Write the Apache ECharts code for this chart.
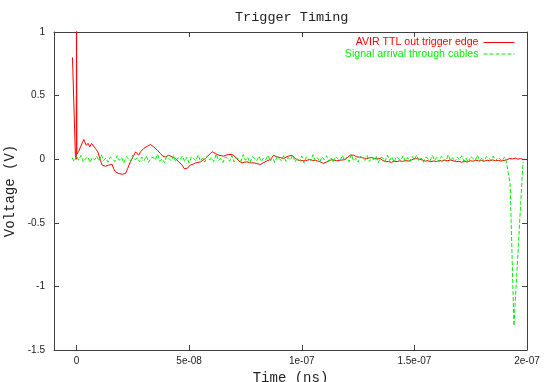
<!DOCTYPE html>
<html lang="en">
<head>
    <meta charset="UTF-8">
    <title>Trigger Timing</title>
    <script src="https://cdn.jsdelivr.net/npm/echarts@6/dist/echarts.min.js"></script>
</head>
<body style="margin:0">
    <div id="main" style="width: 545px; height: 382px"></div>
    <script type="text/javascript">

      // x tick positions (seconds) and their gnuplot style labels
      const xTicks = [0, 5e-8, 1e-7, 1.5e-7, 2e-7];
      const xTickLabels = ["0", "5e-08", "1e-07", "1.5e-07", "2e-07"];

      // red trace: trigger edge, times in ns
      const redNs = [
        -1.8, -0.5, -0.1, 0.0, 0.15, 0.9, 1.8, 2.6, 3.24, 3.8, 4.3, 5.19, 5.9, 6.65, 7.4, 8.43, 9.45,
        10.6, 11.4, 12.1, 12.9, 13.6, 14.3, 15.1, 15.8, 16.5, 17.3, 18.0, 18.8, 19.6, 20.3, 21.0, 21.7,
        22.7, 23.9, 25.1, 26.2, 26.9, 27.6, 28.4, 29.1, 29.8, 30.6, 31.4, 32.1, 32.8, 33.5, 34.3, 35.0,
        35.8, 36.5, 37.3, 38.3, 39.5, 40.9, 42.4, 43.9, 45.4, 46.9, 47.9, 48.6, 49.3, 50.6, 51.7, 52.8,
        53.9, 55.0, 56.1, 57.2, 58.3, 59.4, 60.4, 61.6, 62.3, 63.1, 64.2, 65.3, 66.4, 67.5, 68.2, 69.0,
        70.5, 72.0, 73.5, 74.6, 75.7, 76.8, 77.9, 79.0, 80.1, 81.6, 83.1, 84.6, 86.0, 86.8, 87.5, 88.2,
        89.0, 90.5, 91.9, 93.0, 94.1, 95.7, 97.1, 98.2, 99.3, 100.5, 101.6, 102.7, 103.8, 104.9, 106.0,
        107.1, 108.2, 109.7, 111.2, 112.3, 113.4, 114.5, 115.6, 117.1, 118.2, 119.3, 120.4, 121.5, 123.0,
        124.5, 125.6, 126.7, 127.8, 128.9, 130.0, 131.1, 132.2, 133.5, 134.8, 136.0, 137.2, 138.5, 139.8,
        141.0, 142.3, 143.5, 144.8, 146.0, 147.3, 148.5, 149.8, 151.0, 152.3, 153.5, 154.8, 156.0, 157.3,
        158.5, 159.8, 161.0, 162.3, 163.5, 164.8, 166.0, 167.3, 168.5, 169.8, 171.0, 172.3, 173.5, 174.8,
        176.0, 177.3, 178.5, 179.8, 181.0, 182.3, 183.5, 184.8, 186.0, 187.3, 188.5, 189.8, 191.0, 192.3,
        193.5, 194.8, 196.0, 197.2, 198.2
      ];
      const redVolt = [
        0.80, 0.03, 0.0, 1.3, 0.04, 0.06, 0.097, 0.13, 0.155, 0.13, 0.11, 0.124, 0.097, 0.124, 0.129, 0.084, 0.058,
        -0.008, -0.047, -0.05, -0.055, -0.045, -0.047, -0.06, -0.04, -0.075, -0.1, -0.108, -0.113, -0.12, -0.118, -0.122, -0.113,
        -0.074, -0.021, 0.018, 0.058, 0.045, 0.031, 0.058, 0.07, 0.084, 0.095, 0.102, 0.11, 0.115, 0.105, 0.097, 0.085,
        0.071, 0.06, 0.045, 0.024, 0.018, 0.031, 0.018, 0.006, -0.021, -0.047, -0.075, -0.087, -0.07, -0.045, -0.04, -0.029,
        -0.025, -0.021, -0.008, 0.005, 0.025, 0.045, 0.058, 0.045, 0.038, 0.031, 0.028, 0.024, 0.032, 0.037, 0.03, 0.037,
        0.018, -0.013, -0.029, -0.024, -0.021, -0.027, -0.029, -0.03, -0.034, -0.042, -0.026, -0.013, -0.003, 0.015, 0.031, 0.022,
        0.018, 0.013, 0.005, 0.016, 0.024, 0.031, 0.005, -0.006, -0.013, -0.01, -0.013, -0.006, -0.003, -0.01, -0.008,
        -0.015, -0.021, -0.034, -0.021, -0.01, -0.003, -0.01, -0.013, -0.008, -0.006, -0.003, 0.015, 0.031, 0.031,
        0.018, 0.016, 0.013, 0.008, 0.005, 0.01, 0.013, 0.006, 0.002, 0.005, -0.01, -0.02, -0.018, -0.025,
        -0.015, -0.02, -0.012, -0.018, -0.01, -0.015, -0.008, 0.002, 0.005, 0.0, -0.006, -0.015, -0.012, -0.02,
        -0.014, -0.018, -0.01, -0.015, -0.008, -0.012, -0.006, -0.012, -0.02, -0.016, -0.024, -0.018, -0.022, -0.012,
        -0.016, -0.008, -0.014, -0.01, -0.016, -0.008, -0.013, -0.006, -0.012, -0.009, -0.015, -0.01, -0.004, 0.006,
        0.002, 0.008, 0.0, 0.005, -0.002
      ];

      // green trace: scope samples every 1 ns starting at -2 ns
      const greenStartNs = -2;
      const greenStepNs = 1;
      const greenVolt = [
        0.012, -0.018, 0.026, -0.008, 0.031, -0.022, 0.004, 0.019, -0.027, 0.011,
        -0.006, 0.024, -0.015, 0.035, -0.011, 0.008, -0.024, 0.017, 0.002, -0.019,
        0.028, -0.009, 0.014, -0.03, 0.021, 0.006, -0.016, 0.033, -0.004, 0.01,
        -0.021, 0.018, -0.012, 0.026, -0.025, 0.009, 0.015, -0.007, 0.038, -0.017,
        0.003, -0.028, 0.022, 0.007, -0.013, 0.029, -0.02, 0.012, -0.002, 0.025,
        -0.018, 0.016, -0.031, 0.02, 0.005, -0.011, 0.034, -0.014, 0.01, -0.023,
        0.027, -0.006, 0.013, -0.019, 0.042, -0.01, 0.004, -0.026, 0.018, 0.008,
        -0.015, 0.03, -0.022, 0.011, 0.001, -0.017, 0.036, -0.008, 0.015, -0.028,
        0.019, 0.006, -0.012, 0.024, -0.02, 0.009, -0.003, 0.031, -0.016, 0.013,
        -0.025, 0.02, 0.002, -0.01, 0.028, -0.018, 0.014, -0.007, 0.033, -0.021,
        0.008, -0.014, 0.026, -0.029, 0.017, 0.005, -0.009, 0.035, -0.013, 0.011,
        -0.022, 0.019, -0.004, 0.027, -0.017, 0.01, -0.026, 0.023, 0.003, -0.012,
        0.03, -0.008, 0.016, -0.02, 0.039, -0.015, 0.007, -0.024, 0.021, 0.012,
        -0.01, 0.028, -0.019, 0.006, -0.003, 0.025, -0.027, 0.014, 0.009, -0.016,
        0.032, -0.011, 0.018, -0.023, 0.02, 0.004, -0.008, 0.026, -0.018, 0.013,
        -0.02, 0.022, -0.006, 0.03, -0.014, 0.009, -0.025, 0.017, 0.005, -0.012,
        0.029, -0.009, 0.015, -0.021, 0.024, 0.002, -0.017, 0.034, -0.01, 0.012,
        -0.023, 0.018, -0.005, 0.027, -0.015, 0.008, -0.028, 0.02, 0.006, -0.011,
        0.031, -0.016, 0.013, -0.019, 0.022, 0.007, -0.009, 0.025, -0.013, 0.01,
        0.004, -0.015, 0.018
      ];
      // the pulse arriving at the end of the record
      const greenPulseNs = [190.6, 192.5, 194.2, 198.1, 198.3];
      const greenPulseVolt = [0.0, -0.19, -1.31, -0.06, -0.02];

      let redData = redNs.map((t, i) => [t * 1e-9, redVolt[i]]);
      let greenData = greenVolt.map((v, i) => [(greenStartNs + i * greenStepNs) * 1e-9, v]);
      greenPulseNs.forEach((t, i) => greenData.push([t * 1e-9, greenPulseVolt[i]]));

      let myChart = echarts.init(document.getElementById("main"));

      const frame = "#404040";
      const mono = "Liberation Mono";
      const sans = "Liberation Sans";

      let options = {
        animation: false,
        title: {
          text: "Trigger Timing",
          left: 230,
          top: 5,
          textStyle: { fontFamily: mono, fontSize: 13.5, fontWeight: "normal", color: "#222" }
        },
        legend: {
          orient: "vertical",
          right: 25,
          top: 32,
          align: "right",
          itemWidth: 31,
          itemHeight: 10,
          itemGap: 0.5,
          itemStyle: { opacity: 0 },
          lineStyle: { width: 1 },
          textStyle: { fontFamily: sans, fontSize: 10.6 },
          data: [
            { name: "AVIR TTL out trigger edge", textStyle: { color: "#ff0000" } },
            { name: "Signal arrival through cables", textStyle: { color: "#00ee00" } }
          ]
        },
        grid: { left: 54, right: 18, top: 32, bottom: 32, outerBoundsMode: "none" },
        xAxis: [
          {
            type: "value",
            position: "bottom",
            min: -1e-8,
            max: 2e-7,
            name: "Time (ns)",
            nameLocation: "middle",
            nameGap: 17,
            nameTextStyle: { fontFamily: mono, fontSize: 14, color: "#222" },
            axisLine: { onZero: false, lineStyle: { color: frame } },
            axisTick: { inside: true, length: 5, customValues: xTicks, lineStyle: { color: frame } },
            axisLabel: {
              customValues: xTicks,
              margin: 6,
              fontFamily: sans,
              fontSize: 10,
              color: "#222",
              formatter: (v) => xTickLabels[xTicks.findIndex((t) => Math.abs(t - v) < 1e-12)]
            },
            splitLine: { show: false }
          },
          {
            type: "value",
            position: "top",
            min: -1e-8,
            max: 2e-7,
            axisLine: { onZero: false, lineStyle: { color: frame } },
            axisTick: { inside: true, length: 5, customValues: xTicks, lineStyle: { color: frame } },
            axisLabel: { show: false },
            splitLine: { show: false }
          }
        ],
        yAxis: [
          {
            type: "value",
            position: "left",
            min: -1.5,
            max: 1,
            interval: 0.5,
            name: "Voltage (V)",
            nameLocation: "middle",
            nameGap: 36,
            nameTextStyle: { fontFamily: mono, fontSize: 14, color: "#222" },
            axisLine: { show: true, onZero: false, lineStyle: { color: frame } },
            axisTick: { show: true, inside: true, length: 5, lineStyle: { color: frame } },
            axisLabel: { margin: 9, fontFamily: sans, fontSize: 10, color: "#222" },
            splitLine: { show: false }
          },
          {
            type: "value",
            position: "right",
            min: -1.5,
            max: 1,
            interval: 0.5,
            axisLine: { show: true, onZero: false, lineStyle: { color: frame } },
            axisTick: { show: true, inside: true, length: 5, lineStyle: { color: frame } },
            axisLabel: { show: false },
            splitLine: { show: false }
          }
        ],
        series: [
          {
            name: "AVIR TTL out trigger edge",
            type: "line",
            symbol: "none",
            data: redData,
            lineStyle: { color: "#ff0000", width: 1 },
            itemStyle: { color: "#ff0000" }
          },
          {
            name: "Signal arrival through cables",
            type: "line",
            symbol: "none",
            data: greenData,
            lineStyle: { color: "#00ee00", width: 1, type: [4, 2] },
            itemStyle: { color: "#00ee00" }
          }
        ]
      };

      myChart.setOption(options);

    </script>
</body>
</html>
